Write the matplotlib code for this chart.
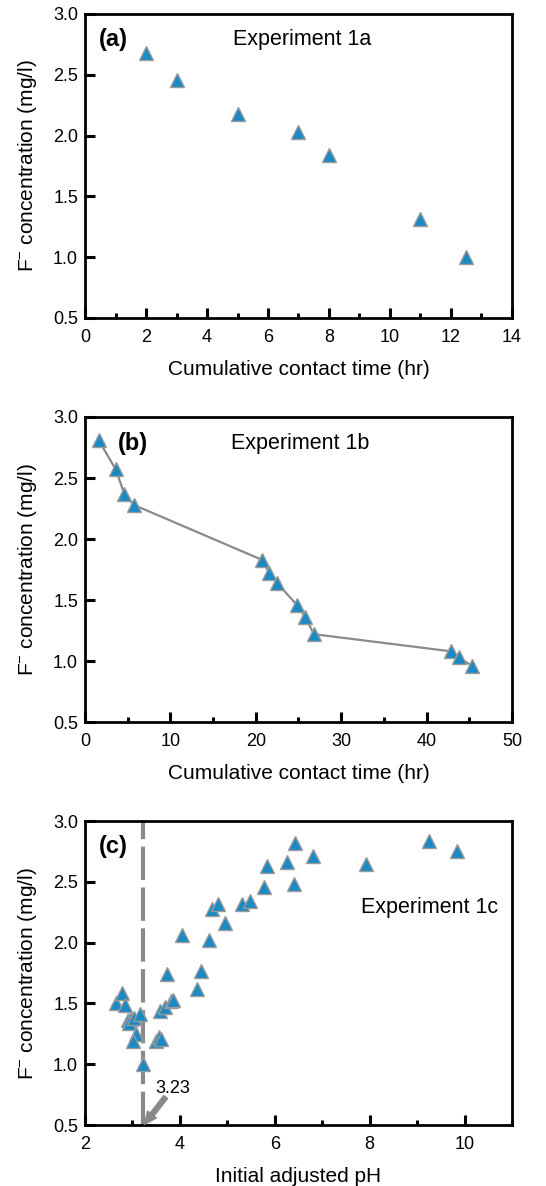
import matplotlib
matplotlib.use("Agg")
import matplotlib.pyplot as plt
from matplotlib.ticker import MultipleLocator

plt.rcParams['font.family'] = ['Liberation Sans', 'DejaVu Sans']
plt.rcParams['mathtext.default'] = 'regular'

# Experiment 1a
time_a = [2, 3, 5, 7, 8, 11, 12.5]
conc_a = [2.68, 2.46, 2.18, 2.03, 1.84, 1.31, 1.0]

# Experiment 1b
time_b = [1.6, 3.6, 4.6, 5.7, 20.7, 21.6, 22.5, 24.8, 25.8, 26.8, 42.8, 43.8, 45.3]
conc_b = [2.81, 2.57, 2.37, 2.28, 1.83, 1.72, 1.64, 1.46, 1.36, 1.22, 1.08, 1.03, 0.96]

# Experiment 1c
ph_c = [2.66, 2.77, 2.84, 2.90, 2.97, 2.93, 3.03, 3.16, 3.08, 3.02, 3.23,
        3.50, 3.55, 3.61, 3.58, 3.69, 3.81, 3.86, 3.72, 4.05, 4.36, 4.44,
        4.61, 4.67, 4.80, 4.96, 5.31, 5.47, 5.78, 5.84, 6.25, 6.40, 6.43,
        6.81, 7.93, 9.26, 9.84]
conc_c = [1.50, 1.59, 1.49, 1.36, 1.37, 1.34, 1.38, 1.41, 1.25, 1.19, 1.00,
          1.19, 1.22, 1.21, 1.44, 1.47, 1.52, 1.53, 1.74, 2.06, 1.62, 1.77,
          2.02, 2.28, 2.32, 2.16, 2.32, 2.34, 2.46, 2.63, 2.66, 2.48, 2.82,
          2.71, 2.65, 2.84, 2.75]
ph_cut = 3.23

blue = '#1b8ac4'
edge = '#9a9a9a'
grey = '#8a8a8a'
ylabel = 'F$^{-}$ concentration (mg/l)'

fig = plt.figure(figsize=(5.46, 11.86), dpi=100)
ax_a = fig.add_axes([0.1557, 0.7319, 0.782, 0.2563])
ax_b = fig.add_axes([0.1557, 0.3912, 0.782, 0.2572])
ax_c = fig.add_axes([0.1557, 0.0514, 0.782, 0.2563])


def style(ax, xmin, xmax, major, minor):
    ax.set_xlim(xmin, xmax)
    ax.set_ylim(0.5, 3.0)
    ax.xaxis.set_major_locator(MultipleLocator(major))
    ax.xaxis.set_minor_locator(MultipleLocator(minor))
    ax.yaxis.set_major_locator(MultipleLocator(0.5))
    ax.yaxis.set_major_formatter(plt.FormatStrFormatter('%.1f'))
    for s in ax.spines.values():
        s.set_linewidth(2.0)
    ax.tick_params(which='major', direction='in', length=7, width=2.2,
                   labelsize=13, top=False, right=False)
    ax.tick_params(axis='x', which='major', pad=8)
    ax.tick_params(axis='y', which='major', pad=5)
    ax.tick_params(which='minor', direction='in', length=3.5, width=2.2,
                   top=False, right=False)
    ax.tick_params(axis='y', which='minor', left=False)
    ax.set_ylabel(ylabel, fontsize=15, labelpad=10)


style(ax_a, 0, 14, 2, 1)
ax_a.plot(time_a, conc_a, linestyle='none', marker='^', ms=9.5,
          mfc=blue, mec=edge, mew=1)
ax_a.set_xlabel('Cumulative contact time (hr)', fontsize=15, labelpad=10)
ax_a.text(0.066, 0.915, '(a)', transform=ax_a.transAxes, fontsize=17,
          fontweight='bold', ha='center', va='center')
ax_a.text(0.509, 0.915, 'Experiment 1a', transform=ax_a.transAxes,
          fontsize=15.5, ha='center', va='center')

style(ax_b, 0, 50, 10, 5)
ax_b.plot(time_b, conc_b, color=grey, lw=1.6, marker='^', ms=9.5,
          mfc=blue, mec=edge, mew=1)
ax_b.set_xlabel('Cumulative contact time (hr)', fontsize=15, labelpad=10)
ax_b.text(0.113, 0.913, '(b)', transform=ax_b.transAxes, fontsize=17,
          fontweight='bold', ha='center', va='center')
ax_b.text(0.504, 0.913, 'Experiment 1b', transform=ax_b.transAxes,
          fontsize=15.5, ha='center', va='center')

style(ax_c, 2, 11, 2, 1)
ax_c.axvline(ph_cut, color=grey, lw=3, dashes=(8, 1.8), zorder=1)
ax_c.plot(ph_c, conc_c, linestyle='none', marker='^', ms=9.5,
          mfc=blue, mec=edge, mew=1, zorder=3)
ax_c.text(3.85, 0.80, f'{ph_cut:.2f}', fontsize=13, ha='center', va='center')
ax_c.annotate('', xy=(ph_cut + 0.02, 0.505), xytext=(3.70, 0.73),
              arrowprops=dict(arrowstyle='simple,head_length=0.9,head_width=0.8,tail_width=0.35',
                              color=grey, shrinkA=0, shrinkB=0))
ax_c.set_xlabel('Initial adjusted pH', fontsize=15, labelpad=10)
ax_c.text(0.066, 0.917, '(c)', transform=ax_c.transAxes, fontsize=17,
          fontweight='bold', ha='center', va='center')
ax_c.text(0.806, 0.715, 'Experiment 1c', transform=ax_c.transAxes,
          fontsize=15.5, ha='center', va='center')

fig.savefig('out.png', dpi=100)
